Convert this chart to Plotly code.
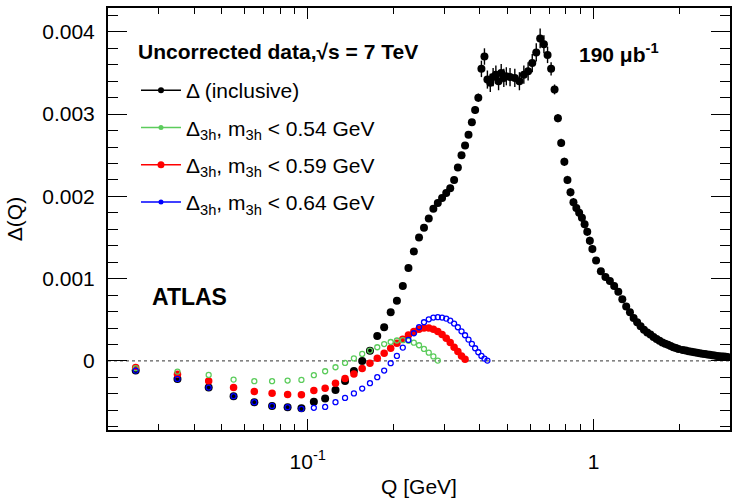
import numpy as np
import plotly.graph_objects as go

# ---------------- data (values in units of 1e-3) ----------------
q_fine = [0.025, 0.035, 0.045, 0.055, 0.065, 0.075, 0.085, 0.095, 0.105, 0.115,
          0.125, 0.135, 0.145, 0.155, 0.165, 0.175, 0.185, 0.195, 0.205, 0.215,
          0.225, 0.235, 0.245, 0.255, 0.265, 0.275, 0.285, 0.295, 0.305, 0.315,
          0.325, 0.335, 0.345, 0.355, 0.365, 0.375, 0.385, 0.395, 0.405, 0.415,
          0.425, 0.435, 0.445, 0.455, 0.465, 0.475, 0.485, 0.495]
q_mid = [0.51, 0.53, 0.55, 0.57, 0.59, 0.61, 0.63, 0.65, 0.67, 0.69, 0.71, 0.73,
         0.75, 0.77, 0.79, 0.81, 0.83, 0.85, 0.87, 0.89, 0.91, 0.93, 0.95, 0.97, 0.99]
q_hi1 = [1.02, 1.06, 1.10, 1.14, 1.18, 1.22, 1.26, 1.30, 1.34, 1.38, 1.42, 1.46,
         1.50, 1.54, 1.58, 1.62, 1.66, 1.70, 1.74, 1.78, 1.82, 1.86, 1.90, 1.94, 1.98]
q_hi2 = [2.05, 2.10, 2.15, 2.20, 2.25, 2.30, 2.35, 2.40, 2.45, 2.50, 2.55, 2.60,
         2.65, 2.70, 2.75, 2.80, 2.85, 2.90, 2.95]

incl_fine = [-0.118, -0.219, -0.324, -0.429, -0.502, -0.547, -0.563, -0.575, -0.498, -0.458,
             -0.355, -0.243, -0.122, 0.000, 0.122, 0.304, 0.410, 0.590, 0.730, 0.910,
             1.130, 1.330, 1.500, 1.620, 1.730, 1.850, 1.920, 1.980, 2.040, 2.100,
             2.200, 2.350, 2.500, 2.620, 2.750, 2.900, 3.050, 3.200, 3.550, 3.700,
             3.420, 3.380, 3.450, 3.480, 3.400, 3.500, 3.440, 3.460]
incl_mid = [3.45, 3.44, 3.40, 3.48, 3.52, 3.62, 3.75, 3.92, 3.85, 3.72, 3.55, 3.30,
            2.95, 2.65, 2.42, 2.20, 2.05, 1.93, 1.86, 1.80, 1.74, 1.66, 1.57, 1.46, 1.36]
incl_hi1 = [1.22, 1.09, 1.02, 0.97, 0.91, 0.84, 0.75, 0.66, 0.59, 0.52, 0.47, 0.42,
            0.38, 0.345, 0.32, 0.29, 0.265, 0.245, 0.225, 0.21, 0.195, 0.18, 0.167, 0.156, 0.146]
incl_hi2 = [0.134, 0.125, 0.117, 0.110, 0.104, 0.098, 0.093, 0.088, 0.083, 0.078,
            0.074, 0.070, 0.065, 0.061, 0.058, 0.055, 0.052, 0.049, 0.047]

err_fine = [0.015, 0.015, 0.015, 0.015, 0.015, 0.015, 0.015, 0.015, 0.015, 0.015,
            0.015, 0.015, 0.015, 0.015, 0.015, 0.015, 0.015, 0.015, 0.02, 0.02,
            0.04, 0.04, 0.04, 0.04, 0.04, 0.04, 0.04, 0.04, 0.04, 0.04,
            0.04, 0.04, 0.04, 0.04, 0.04, 0.04, 0.05, 0.05, 0.10, 0.10,
            0.11, 0.11, 0.11, 0.11, 0.11, 0.11, 0.11, 0.11]
err_mid = [0.11, 0.11, 0.11, 0.11, 0.11, 0.11, 0.11, 0.12, 0.11, 0.10, 0.08, 0.06,
           0.05, 0.05, 0.05, 0.05, 0.05, 0.05, 0.05, 0.05, 0.05, 0.05, 0.05, 0.05, 0.05]
err_hi1 = [0.04, 0.04, 0.04, 0.04, 0.04, 0.04, 0.04, 0.03, 0.03, 0.03, 0.03, 0.03,
           0.03, 0.03, 0.03, 0.03, 0.03, 0.03, 0.03, 0.03, 0.03, 0.03, 0.03, 0.03, 0.03]
err_hi2 = [0.02, 0.02, 0.02, 0.02, 0.02, 0.02, 0.02, 0.02, 0.02, 0.02,
           0.02, 0.02, 0.02, 0.02, 0.02, 0.02, 0.02, 0.02, 0.02]

green_054 = [-0.089, -0.130, -0.170, -0.227, -0.247, -0.247, -0.239, -0.231, -0.174, -0.126,
             -0.077, -0.025, 0.030, 0.085, 0.126, 0.166, 0.205, 0.230, 0.248, 0.252,
             0.245, 0.222, 0.190, 0.145, 0.100, 0.055, 0.004]
red_059 = [-0.081, -0.162, -0.243, -0.324, -0.373, -0.393, -0.409, -0.413, -0.360, -0.332,
           -0.271, -0.215, -0.158, -0.093, -0.028, 0.032, 0.093, 0.154, 0.215, 0.263,
           0.316, 0.356, 0.385, 0.401, 0.401, 0.385, 0.356, 0.320, 0.275, 0.223,
           0.166, 0.113, 0.061, 0.020]
blue_064 = [-0.118, -0.219, -0.324, -0.429, -0.502, -0.547, -0.563, -0.583, -0.570, -0.560,
            -0.502, -0.450, -0.395, -0.336, -0.271, -0.198, -0.117, -0.028, 0.061, 0.162,
            0.255, 0.336, 0.409, 0.470, 0.506, 0.527, 0.531, 0.527, 0.514, 0.490,
            0.454, 0.409, 0.360, 0.312, 0.259, 0.207, 0.154, 0.105, 0.061, 0.028, 0.004]

y_ticks = [0.0, 0.001, 0.002, 0.003, 0.004]
y_ticktext = ["0", "0.001", "0.002", "0.003", "0.004"]
x_ticks = [0.1, 1.0]
x_ticktext = ["10<sup>-1</sup>", "1"]
x_minor = [0.02, 0.03, 0.04, 0.05, 0.06, 0.07, 0.08, 0.09,
           0.2, 0.3, 0.4, 0.5, 0.6, 0.7, 0.8, 0.9, 2.0, 3.0]

labels = ["Δ (inclusive)",
          "Δ<sub>3h</sub>, m<sub>3h</sub> &lt; 0.54 GeV",
          "Δ<sub>3h</sub>, m<sub>3h</sub> &lt; 0.59 GeV",
          "Δ<sub>3h</sub>, m<sub>3h</sub> &lt; 0.64 GeV"]

# ---------------- build ----------------
E = 1e-3
q_incl = q_fine + q_mid + q_hi1 + q_hi2
y_incl = [v * E for v in incl_fine + incl_mid + incl_hi1 + incl_hi2]
e_incl = [v * E for v in err_fine + err_mid + err_hi1 + err_hi2]

GREEN = "#5ccc5c"
FONT = "Liberation Sans, Arial, Helvetica, sans-serif"

fig = go.Figure()

fig.add_trace(go.Scatter(
    x=q_incl, y=y_incl, mode="markers", showlegend=False,
    marker=dict(color="black", size=8, symbol="circle"),
    error_y=dict(type="data", array=e_incl, color="black", thickness=1.4, width=0)))
fig.add_trace(go.Scatter(
    x=q_fine[:len(red_059)], y=[v * E for v in red_059], mode="markers", showlegend=False,
    marker=dict(color="#ff0000", size=7.5, symbol="circle")))
fig.add_trace(go.Scatter(
    x=q_fine[:len(green_054)], y=[v * E for v in green_054], mode="markers", showlegend=False,
    marker=dict(color=GREEN, size=5, symbol="circle-open", line=dict(width=1.3, color=GREEN))))
fig.add_trace(go.Scatter(
    x=q_fine[:len(blue_064)], y=[v * E for v in blue_064], mode="markers", showlegend=False,
    marker=dict(color="#0000ff", size=5, symbol="circle-open", line=dict(width=1.3, color="#0000ff"))))

# legend entries (line + marker style)
leg_styles = [("black", 6), (GREEN, 5), ("#ff0000", 7), ("#0000ff", 5)]
for i, (lab, (col, sz)) in enumerate(zip(labels, leg_styles)):
    fig.add_trace(go.Scatter(
        x=[None], y=[None], mode="lines+markers", name=lab, legendgroup=f"g{i}",
        line=dict(color=col, width=1.5), marker=dict(color=col, size=sz)))

# dummy trace for mirrored axes
fig.add_trace(go.Scatter(x=[0.1], y=[0], xaxis="x2", yaxis="y2", mode="markers",
                         marker=dict(opacity=0), showlegend=False, hoverinfo="skip"))

xr = [np.log10(0.02), np.log10(3.0)]
yr = [-0.00084, 0.00429]

common_x = dict(type="log", range=xr, showgrid=False, zeroline=False, automargin=False,
                showline=True, linecolor="black", linewidth=2,
                ticks="inside", ticklen=11, tickwidth=1.3, tickcolor="black",
                tickvals=x_ticks,
                minor=dict(tickmode="array", tickvals=x_minor, ticks="inside",
                           ticklen=6, tickwidth=1.3, tickcolor="black"))
common_y = dict(range=yr, showgrid=False, zeroline=False, automargin=False,
                showline=True, linecolor="black", linewidth=2,
                ticks="inside", ticklen=19, tickwidth=1.3, tickcolor="black",
                tickvals=y_ticks,
                minor=dict(tickmode="linear", tick0=0, dtick=0.0002, ticks="inside",
                           ticklen=10, tickwidth=1.3, tickcolor="black"))

fig.update_layout(
    width=736, height=498,
    margin=dict(l=108, r=6, t=8, b=68),
    paper_bgcolor="white", plot_bgcolor="white",
    font=dict(family=FONT, size=21, color="black"),
    xaxis=dict(**common_x, ticktext=x_ticktext, ticklabelstandoff=12,
               tickfont=dict(size=21),
               title=dict(text="Q [GeV]", font=dict(size=21), standoff=8)),
    yaxis=dict(**common_y, ticktext=y_ticktext, ticklabelstandoff=7,
               tickfont=dict(size=21),
               title=dict(text="Δ(Q)", font=dict(size=21), standoff=14)),
    xaxis2=dict(**common_x, overlaying="x", side="top", anchor="y2",
                showticklabels=False),
    yaxis2=dict(**common_y, overlaying="y", side="right", anchor="x2",
                showticklabels=False),
    legend=dict(x=0.045, y=0.853, xanchor="left", yanchor="top",
                bgcolor="rgba(0,0,0,0)", font=dict(size=21),
                traceorder="grouped", tracegroupgap=7, itemwidth=40),
    showlegend=True,
)

fig.add_shape(type="line", xref="paper", yref="y", x0=0, x1=1, y0=0, y1=0,
              line=dict(color="#333333", width=1, dash="dot"), layer="below")

fig.add_annotation(xref="paper", yref="paper", x=(136 - 108) / 622, y=(430 - 52) / 422,
                   xanchor="left", yanchor="middle", showarrow=False,
                   text="<b>Uncorrected data,√s = 7 TeV</b>", font=dict(size=21))
fig.add_annotation(xref="paper", yref="paper", x=(577 - 108) / 622, y=(430 - 53) / 422,
                   xanchor="left", yanchor="middle", showarrow=False,
                   text="<b>190 μb<sup>-1</sup></b>", font=dict(size=21))
fig.add_annotation(xref="paper", yref="paper", x=(150 - 108) / 622, y=(430 - 297) / 422,
                   xanchor="left", yanchor="middle", showarrow=False,
                   text="<b>ATLAS</b>", font=dict(size=23))

fig.write_html("out.html")
